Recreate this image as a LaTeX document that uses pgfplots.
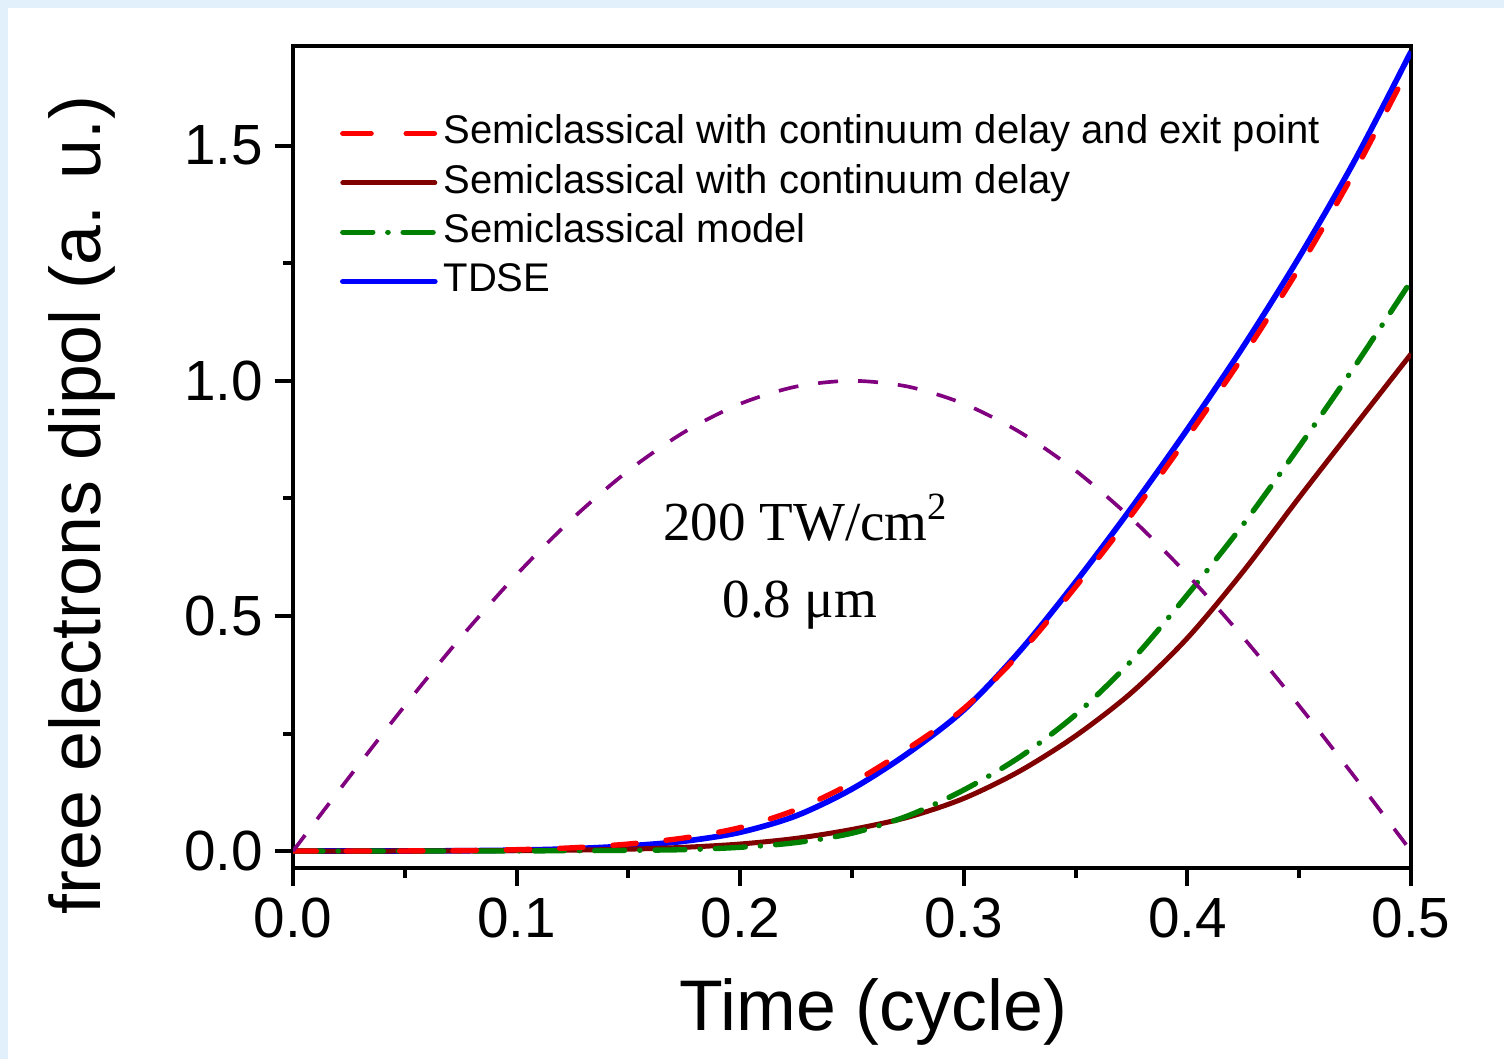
\documentclass[border=0pt]{standalone}
\usepackage{pgfplots}
\pgfplotsset{compat=1.18}
\usepackage{fontspec}
\setmainfont{Liberation Sans}
\newfontfamily\timesfont{Liberation Serif}
\definecolor{bgblue}{RGB}{226,240,251}
\definecolor{dkred}{RGB}{128,0,0}
\definecolor{dkgreen}{RGB}{0,128,0}
\definecolor{purp}{RGB}{128,0,128}
\begin{document}
\begin{tikzpicture}
\fill[bgblue] (-87.9pt,-57.3pt) rectangle (363.3pt,260.4pt);
\fill[white] (-85.5pt,-57.3pt) rectangle (363.3pt,258.0pt);
\useasboundingbox (-87.9pt,-57.3pt) rectangle (363.3pt,260.4pt);
\begin{axis}[
  at={(0pt,0pt)}, anchor=south west,
  scale only axis, width=335.4pt, height=246.6pt,
  xmin=0, xmax=0.5, ymin=-0.036, ymax=1.712,
  xtick={0,0.1,0.2,0.3,0.4,0.5}, ytick={0,0.5,1.0,1.5},
  minor x tick num=1, minor y tick num=1,
  xtick pos=bottom, ytick pos=left,
  tick align=outside,
  major tick length=5.5pt, minor tick length=3pt,
  every tick/.style={black, line width=1.2pt},
  axis line style={line width=1.2pt},
  /pgf/number format/assume math mode=true,
  xticklabel style={font=\fontsize{17}{20}\selectfont, /pgf/number format/.cd, fixed, fixed zerofill, precision=1},
  yticklabel style={font=\fontsize{17}{20}\selectfont, /pgf/number format/.cd, fixed, fixed zerofill, precision=1},
  scaled ticks=false,
  xlabel={Time (cycle)},
  ylabel={free electrons dipol (a. u.)},
  label style={font=\fontsize{21.5}{25}\selectfont},
  xlabel style={at={(axis description cs:0.519,-0.1971)}, anchor=base},
  ylabel style={at={(axis description cs:-0.1726,0.4416)}, anchor=base},
  legend style={draw=none, fill=none, at={(axis description cs:0.042,0.916)}, anchor=north west,
    inner sep=0pt, outer sep=0pt,
    font=\fontsize{12}{14}\selectfont, row sep=3.7pt,
    nodes={inner sep=0pt, text height=8.6pt, text depth=2.5pt}},
  legend cell align=left,
  legend image code/.code={\draw[#1] (0pt,0pt) -- (27.6pt,0pt);},
]
\addlegendimage{red, line width=1.6pt, line cap=round, dash pattern=on 8.5pt off 10.5pt}
\addlegendentry{\hspace{1.8pt}Semiclassical with continuum delay and exit point}
\addlegendimage{dkred, line width=1.5pt, line cap=round}
\addlegendentry{\hspace{1.8pt}Semiclassical with continuum delay}
\addlegendimage{dkgreen, line width=1.6pt, line cap=round, dash pattern=on 9pt off 4.5pt on 0.1pt off 4.5pt}
\addlegendentry{\hspace{1.8pt}Semiclassical model}
\addlegendimage{blue, line width=1.7pt, line cap=round}
\addlegendentry{\hspace{1.8pt}TDSE}

% TDSE
\addplot[blue, line width=1.7pt, smooth, forget plot] coordinates {
(0,0) (0.025,0) (0.05,0.0002) (0.075,0.0007) (0.1,0.002) (0.125,0.005)
(0.15,0.011) (0.175,0.021) (0.2,0.040) (0.225,0.075) (0.25,0.132)
(0.275,0.208) (0.3,0.300) (0.325,0.425) (0.35,0.572) (0.375,0.730)
(0.4,0.897) (0.425,1.073) (0.45,1.263) (0.475,1.470) (0.5,1.700)};
% continuum delay
\addplot[dkred, line width=1.5pt, smooth, forget plot] coordinates {
(0,0) (0.05,0.0002) (0.1,0.001) (0.125,0.002) (0.15,0.004) (0.175,0.008)
(0.2,0.015) (0.225,0.027) (0.25,0.046) (0.275,0.072) (0.3,0.112)
(0.325,0.170) (0.35,0.245) (0.375,0.337) (0.4,0.453) (0.425,0.595)
(0.45,0.752) (0.475,0.905) (0.5,1.057)};
% semiclassical model
\addplot[dkgreen, line width=1.6pt, line cap=round, dash pattern=on 9pt off 4.5pt on 0.1pt off 4.5pt, smooth, forget plot] coordinates {
(0,0) (0.05,0) (0.1,0.0003) (0.125,0.0008) (0.15,0.0015) (0.175,0.003)
(0.2,0.008) (0.225,0.018) (0.25,0.038) (0.275,0.075) (0.3,0.130)
(0.325,0.200) (0.35,0.290) (0.375,0.405) (0.4,0.545) (0.425,0.695)
(0.45,0.860) (0.475,1.032) (0.5,1.212)};
% exit point
\addplot[red, line width=1.6pt, line cap=round, dash pattern=on 7pt off 9pt, smooth, forget plot] coordinates {
(0,0) (0.025,0) (0.05,0.0003) (0.075,0.001) (0.1,0.003) (0.125,0.007)
(0.15,0.015) (0.175,0.028) (0.2,0.050) (0.225,0.088) (0.25,0.145)
(0.275,0.218) (0.3,0.303) (0.325,0.420) (0.35,0.562) (0.375,0.715)
(0.4,0.880) (0.425,1.053) (0.45,1.240) (0.475,1.447) (0.5,1.675)};
% field
\addplot[purp, line width=1.1pt, dash pattern=on 6pt off 6pt, smooth, forget plot] coordinates {
(0,0) (0.025,0.1564) (0.05,0.3090) (0.075,0.4540) (0.1,0.5878) (0.125,0.7071)
(0.15,0.8090) (0.175,0.8910) (0.2,0.9511) (0.225,0.9877) (0.25,1.0)
(0.275,0.9877) (0.3,0.9511) (0.325,0.8910) (0.35,0.8090) (0.375,0.7071)
(0.4,0.5878) (0.425,0.4540) (0.45,0.3090) (0.475,0.1564) (0.5,0)};

\node[font=\timesfont\fontsize{16.5}{19}\selectfont, anchor=base] at (axis cs:0.2294,0.661) {200 TW/cm\textsuperscript{2}};
\node[font=\timesfont\fontsize{16.5}{19}\selectfont, anchor=base] at (axis cs:0.2267,0.497) {0.8 μm};
\end{axis}
\end{tikzpicture}
\end{document}
